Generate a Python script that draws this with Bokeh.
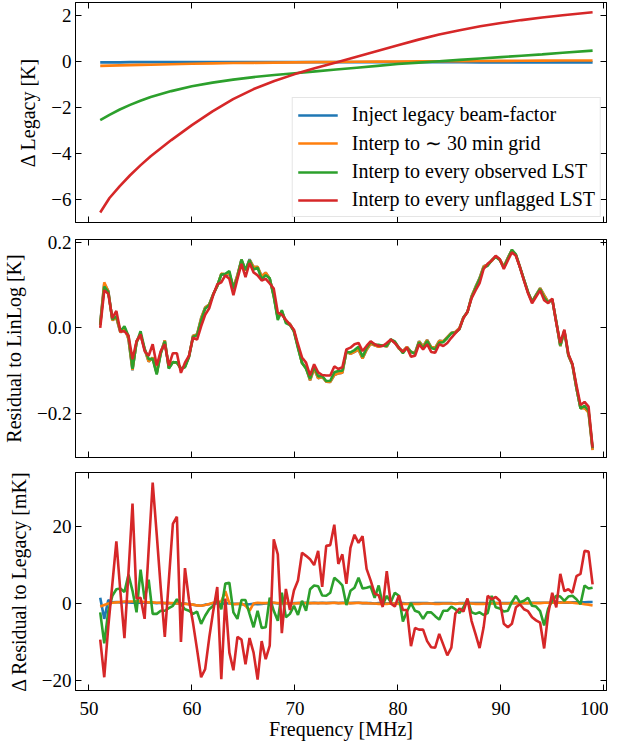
import numpy as np
from bokeh.plotting import figure
from bokeh.models import (LinearAxis, FixedTicker, CustomJSTickFormatter, Range1d,
                          Legend, LegendItem)
from bokeh.layouts import column
from bokeh.embed import file_html
from bokeh.resources import INLINE

# ---------------- data ----------------
labels = ["Inject legacy beam-factor", "Interp to \u223c 30 min grid",
          "Interp to every observed LST", "Interp to every unflagged LST"]
colors = ["#1f77b4", "#ff7f0e", "#2ca02c", "#d62728"]

x_ticks = [50, 60, 70, 80, 90, 100]
top_yticks = [-6, -4, -2, 0, 2]
mid_yticks = [-0.2, 0.0, 0.2]
bot_yticks = [-20, 0, 20]

# top panel: Delta vs legacy [K]
freq_top = [51.1, 52, 53, 54, 55, 56, 58, 60, 62, 64, 66, 68, 70, 72, 74, 76, 78,
            80, 82, 84, 86, 88, 90, 92, 94, 96, 98.9]
dleg_blue = [-0.02, -0.02, -0.02, -0.01, -0.01, -0.01, -0.01, -0.01, -0.01, -0.01,
             -0.01, -0.01, -0.01, -0.01, -0.01, -0.01, -0.01, -0.01, -0.01, -0.01,
             -0.01, -0.02, -0.02, -0.02, -0.02, -0.02, -0.02]
dleg_orange = [-0.17, -0.16, -0.15, -0.14, -0.13, -0.12, -0.10, -0.08, -0.065, -0.05,
               -0.04, -0.03, -0.02, -0.01, 0.0, 0.01, 0.015, 0.02, 0.025, 0.03,
               0.035, 0.04, 0.045, 0.05, 0.055, 0.06, 0.065]
dleg_green = [-2.53, -2.30, -2.07, -1.87, -1.69, -1.53, -1.27, -1.06, -0.90, -0.77,
              -0.66, -0.57, -0.49, -0.41, -0.33, -0.25, -0.17, -0.09, -0.03, 0.03,
              0.09, 0.15, 0.21, 0.27, 0.33, 0.40, 0.49]
dleg_red = [-6.55, -5.92, -5.40, -4.93, -4.50, -4.10, -3.40, -2.75, -2.15, -1.62,
            -1.18, -0.83, -0.53, -0.26, -0.02, 0.23, 0.48, 0.73, 0.97, 1.19,
            1.38, 1.55, 1.69, 1.82, 1.93, 2.03, 2.16]

# channel grid (123 channels)
freq = np.linspace(51.1, 98.9, 123)

# middle panel: residual of the "unflagged LST" run to LinLog fit [K]
resid_red = [
    0.0, 0.088, 0.08, 0.023, 0.04, -0.008, -0.008, -0.018, -0.073, -0.031,
    -0.015, -0.054, -0.065, -0.038, -0.088, -0.054, -0.038, -0.088, -0.059, -0.059,
    -0.105, -0.081, -0.065, -0.023, -0.027, 0.004, 0.031, 0.046, 0.077, 0.102,
    0.107, 0.123, 0.115, 0.077, 0.115, 0.15, 0.119, 0.152, 0.13, 0.123,
    0.111, 0.115, 0.104, 0.092, 0.036, 0.031, 0.019, 0.008, -0.004, -0.038,
    -0.069, -0.081, -0.111, -0.085, -0.104, -0.11, -0.111, -0.111, -0.09, -0.096,
    -0.092, -0.05, -0.046, -0.038, -0.035, -0.054, -0.042, -0.031, -0.038, -0.042,
    -0.042, -0.035, -0.027, -0.035, -0.046, -0.056, -0.046, -0.067, -0.065, -0.038,
    -0.05, -0.038, -0.056, -0.058, -0.038, -0.042, -0.035, -0.023, -0.012, -0.002,
    0.023, 0.038, 0.069, 0.088, 0.105, 0.138, 0.15, 0.158, 0.169, 0.161,
    0.138, 0.158, 0.177, 0.169, 0.142, 0.111, 0.081, 0.058, 0.073, 0.088,
    0.065, 0.058, 0.069, 0.012, -0.035, -0.004, -0.061, -0.084, -0.134, -0.18,
    -0.173, -0.184, -0.28]

# bottom panel: Delta residual to legacy [mK]
dres_blue = [
    1.5, -4.0, 0.9, 0.3, 0.4, 0.3, 0.4, 0.3, 0.2, 0.3,
    0.2, 0.2, 0.3, 0.2, 0.1, 0.2, 0.1, 0.1, 0.0, 0.1,
    0.0, 0.0, -0.2, -0.3, -0.5, -0.6, -0.3, -0.2, 0.1, 0.0,
    -0.2, 0.1, 0.0, -0.1, -0.1, -0.2, -0.3, -0.2, -0.1, -0.2,
    -0.1, 0.0, 0.1, 0.2, 0.0, 0.1, 0.1, 0.0, 0.1, 0.1,
    0.2, 0.2, 0.1, 0.2, 0.1, 0.2, 0.1, 0.2, 0.2, 0.1,
    0.2, 0.2, 0.1, 0.2, 0.2, 0.1, 0.1, 0.1, 0.0, 0.1,
    0.1, 0.0, 0.1, 0.0, 0.1, 0.1, 0.0, 0.1, 0.1, 0.1,
    0.1, 0.1, 0.0, 0.1, 0.1, 0.1, 0.1, 0.1, 0.0, 0.1,
    0.1, 0.1, 0.1, 0.1, 0.1, 0.1, 0.0, 0.1, 0.1, 0.1,
    0.1, 0.1, 0.1, 0.1, 0.2, 0.1, 0.1, 0.2, 0.2, 0.2,
    0.2, 0.2, 0.2, 0.2, 0.3, 0.2, 0.2, 0.3, 0.3, 0.3,
    0.3, 0.4, 0.4]
dres_orange = [
    -0.8, -0.4, 0.0, 0.2, 0.3, 0.4, 0.5, 0.5, 0.5, 0.6,
    0.5, 0.4, 0.3, 0.3, 0.2, 0.2, 0.1, 0.1, 0.1, 0.0,
    0.0, -0.1, -0.2, -0.3, -0.5, -0.6, -0.4, -0.1, 0.2, 0.4,
    0.5, 3.2, 0.0, -0.2, -0.1, 0.0, -0.6, -1.9, 0.0, 0.2,
    0.1, 0.1, 0.2, 0.2, 0.1, 0.1, 0.1, 0.0, 0.0, 0.1,
    0.1, 0.1, 0.1, 0.1, 0.1, 0.1, 0.1, 0.1, 0.2, 0.1,
    0.1, 0.1, 0.1, 0.1, 0.2, 0.1, 0.1, 0.0, 0.0, -0.1,
    -0.1, -0.1, 0.0, 0.0, -0.1, -0.1, -0.1, -0.1, -0.1, -0.1,
    0.0, 0.0, 0.0, -0.1, -0.1, 0.0, 0.0, 0.0, -0.1, 0.0,
    0.0, 0.0, 0.0, -0.1, -0.1, -0.1, 0.0, 0.0, 0.1, 0.0,
    0.0, 0.0, 0.1, 0.1, 0.1, 0.1, 0.1, 0.1, 0.1, 0.1,
    0.2, 0.2, 0.2, 0.2, 0.2, 0.3, 0.3, 0.2, 0.1, 0.0,
    -0.2, -0.3, -0.5]
dres_green = [
    -2.3, -10.4, -2.0, 2.0, 3.7, 3.9, 3.0, 7.5, 3.3, -2.3,
    8.8, 1.1, 6.2, -2.7, -2.7, -1.9, -1.9, -1.2, -0.6, 1.1,
    -0.2, -1.5, -1.9, -2.7, -2.1, -5.3, -3.2, -1.5, -0.6, 1.1,
    -1.5, 5.2, 5.4, -2.3, -4.0, 0.9, 0.9, -2.7, -6.2, -1.9,
    -6.4, -6.2, 1.5, -1.9, -4.5, 2.8, -3.6, -2.7, -0.6, -3.0,
    0.7, -1.9, 3.7, 4.7, 4.5, 2.1, 2.0, 2.8, 6.7, 5.8,
    4.7, -0.4, 3.3, 4.1, 6.7, 3.9, 4.1, 4.4, 1.5, 4.7,
    -0.4, 2.0, 0.3, 2.8, 2.0, -4.7, -2.1, 0.1, -1.9, -2.3,
    -4.0, -2.3, -2.3, -3.3, -4.2, -1.9, -1.9, -0.8, -1.5, -2.5,
    -1.0, 1.1, -2.3, -2.7, -2.3, -3.0, -2.5, 2.0, -1.0, -1.3,
    -2.1, -1.9, 0.4, 2.0, 0.3, 0.7, 1.5, -0.6, -0.8, -2.0,
    -5.7, -1.3, 0.7, 2.0, 1.8, 0.7, 1.8, 2.0, 1.1, -0.2,
    4.7, 3.9, 4.1]
dres_red = [
    -9.4, -19.2, -6.0, 5.0, 16.2, 3.0, -9.0, 8.0, 26.0, 1.3,
    1.5, -4.0, 14.0, 31.5, 18.0, 4.0, -8.7, 6.0, 20.7, 22.6,
    -10.0, 9.2, 0.9, -5.1, -12.0, -19.2, -17.1, -9.0, -2.0, 4.3,
    -19.7, 1.3, -12.8, -17.4, -8.7, -9.4, -15.8, -9.0, -12.8, -19.8,
    -9.8, -14.5, -11.0, 16.7, 12.8, -7.7, 3.8, -1.7, 3.4, 6.0,
    13.2, 12.4, 11.5, 10.0, 13.7, 4.3, 15.0, 15.2, 20.5, 10.3,
    12.8, 5.1, 14.5, 17.9, 15.8, 17.5, 9.0, 6.0, 2.6, 2.1,
    -0.9, 8.4, 0.0, -0.8, 2.1, -1.7, -1.7, -11.1, -6.4, -6.8,
    -6.8, -9.8, -11.4, -11.5, -7.9, -10.7, -13.5, -11.5, -2.6, -1.3,
    -2.1, 1.3, -4.5, -8.0, -11.6, -6.2, 2.0, 1.1, 1.7, 0.7,
    -5.3, -6.2, -5.3, -1.0, -0.2, -1.5, -2.0, -3.6, -4.4, -5.0,
    -11.7, -2.7, 2.8, -1.0, 7.7, 3.2, 3.7, 2.8, 7.1, 7.7,
    13.7, 13.5, 5.0]

# residual of each run = legacy residual + its delta (delta in mK)
resid_legacy = np.array(resid_red) - np.array(dres_red) / 1000.0
resid = [resid_legacy + np.array(d) / 1000.0
         for d in (dres_blue, dres_orange, dres_green, dres_red)]

# ---------------- styling ----------------
FONT = "Liberation Serif"
TICK_FS = "19px"
LABEL_FS = "20px"
LW = 2.6
X_RANGE = (48.70, 100.25)


def style_axis(ax, ticks, digits=0, show=True, standoff=4):
    ax.ticker = FixedTicker(ticks=ticks)
    ax.major_tick_in = 6
    ax.major_tick_out = 0
    ax.minor_tick_line_color = None
    ax.major_tick_line_color = "black"
    ax.major_tick_line_width = 1
    ax.axis_line_color = "black"
    ax.axis_line_width = 1
    if show:
        ax.formatter = CustomJSTickFormatter(
            code="return tick.toFixed(%d).replace('-', '\u2212');" % digits)
        ax.major_label_text_font = FONT
        ax.major_label_text_font_size = TICK_FS
        ax.major_label_text_color = "black"
        ax.major_label_standoff = standoff
    else:
        ax.major_label_text_font_size = "1px"
        ax.major_label_text_color = None
        ax.major_label_standoff = 0


def make_fig(height, yr, yticks, ydigits, ylabel, btop, bbot, show_x):
    p = figure(width=608, height=height,
               x_range=Range1d(*X_RANGE), y_range=Range1d(*yr),
               output_backend="svg", toolbar_location=None,
               min_border_left=73, min_border_right=2,
               min_border_top=btop, min_border_bottom=bbot)
    p.grid.visible = False
    p.outline_line_color = "black"
    p.outline_line_width = 1
    p.background_fill_color = "white"
    p.border_fill_color = "white"

    xa = p.xaxis[0]
    style_axis(xa, x_ticks, 0, show_x, standoff=11)
    if show_x:
        xa.axis_label = "Frequency [MHz]"
        xa.axis_label_text_font = FONT
        xa.axis_label_text_font_size = LABEL_FS
        xa.axis_label_text_font_style = "normal"
        xa.axis_label_text_color = "black"
        xa.axis_label_standoff = 0
    ya = p.yaxis[0]
    style_axis(ya, yticks, ydigits, True, standoff=4)
    ya.axis_label = ylabel
    ya.axis_label_text_font = FONT
    ya.axis_label_text_font_size = LABEL_FS
    ya.axis_label_text_font_style = "normal"
    ya.axis_label_text_color = "black"
    ya.axis_label_standoff = 9

    top_ax = LinearAxis()
    style_axis(top_ax, x_ticks, 0, False)
    p.add_layout(top_ax, "above")
    right_ax = LinearAxis()
    style_axis(right_ax, yticks, 0, False)
    p.add_layout(right_ax, "right")
    return p


# ---------------- top panel ----------------
p1 = make_fig(230, (-6.985, 2.585), top_yticks, 0, "\u0394 Legacy [K]", 2, 8, False)
top_series = [dleg_blue, dleg_orange, dleg_green, dleg_red]
rends = []
for vals, c in zip(top_series, colors):
    rends.append(p1.line(freq_top, vals, line_color=c, line_width=LW))
legend = Legend(items=[LegendItem(label=l, renderers=[r]) for l, r in zip(labels, rends)],
                location="bottom_right")
legend.label_text_font = FONT
legend.label_text_font_size = LABEL_FS
legend.label_text_color = "black"
legend.glyph_width = 40
legend.glyph_height = 20
legend.label_height = 21
legend.label_standoff = 14
legend.spacing = 5
legend.padding = 5
legend.margin = 5
legend.border_line_color = "#cccccc"
legend.border_line_width = 1
legend.background_fill_color = "white"
legend.background_fill_alpha = 0.85
p1.add_layout(legend)

# ---------------- middle panel ----------------
p2 = make_fig(234, (-0.303, 0.207), mid_yticks, 1, "Residual to LinLog [K]", 9, 7, False)
for vals, c in zip(resid, colors):
    p2.line(freq, vals, line_color=c, line_width=LW)

# ---------------- bottom panel ----------------
p3 = make_fig(283, (-22.65, 34.1), bot_yticks, 0, "\u0394 Residual to Legacy [mK]", 8, 57, True)
for vals, c in zip([dres_blue, dres_orange, dres_green, dres_red], colors):
    p3.line(freq, vals, line_color=c, line_width=LW)

layout = column(p1, p2, p3)
open("out.html", "w").write(file_html(layout, INLINE))
